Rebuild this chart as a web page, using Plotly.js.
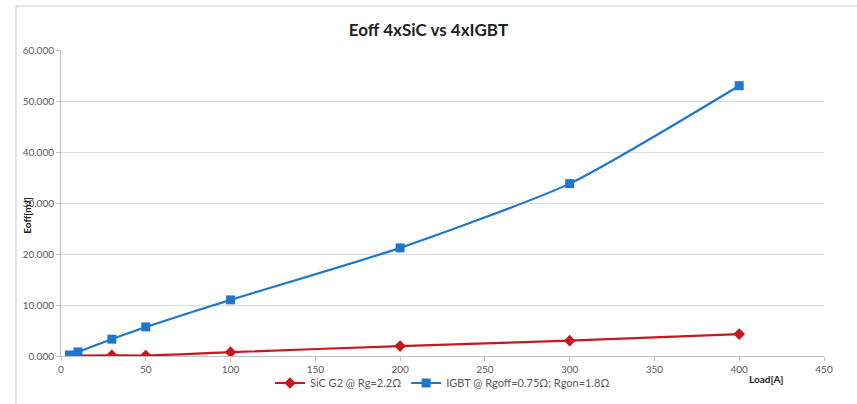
<!DOCTYPE html>
<html>
<head>
<meta charset="utf-8">
<script src="https://cdn.plot.ly/plotly-3.0.1.min.js"></script>
<style>html,body{margin:0;padding:0;background:#fff;}#chart{width:857px;height:404px;}</style>
</head>
<body>
<div id="chart"></div>
<script>
const sicLoad = [10, 30, 50, 100, 200, 300, 400];
const sicEoff = [0.1, 0.15, 0.1, 0.75, 1.95, 3.0, 4.3];
const igbtLoad = [5, 10, 30, 50, 100, 200, 300, 400];
const igbtEoff = [0.2, 0.8, 3.3, 5.7, 11.0, 21.2, 33.8, 53.0];
const sicName = 'SiC G2 @ Rg=2.2Ω';
const igbtName = 'IGBT @ Rgoff=0.75Ω; Rgon=1.8Ω';
const xTicks = [0, 50, 100, 150, 200, 250, 300, 350, 400, 450];
const yTicks = [0, 10, 20, 30, 40, 50, 60];

const font = 'Lato, "Liberation Sans", sans-serif';
const traces = [
  {x: sicLoad, y: sicEoff, name: sicName, type: 'scatter', mode: 'lines+markers',
   line: {color: '#C8171E', width: 2.2, shape: 'spline', smoothing: 0.6},
   marker: {symbol: 'diamond', size: 9, color: '#C8171E'}},
  {x: igbtLoad, y: igbtEoff, name: igbtName, type: 'scatter', mode: 'lines+markers',
   line: {color: '#1F77C9', width: 2.2, shape: 'spline', smoothing: 0.6},
   marker: {symbol: 'square', size: 9, color: '#1F77C9'}}
];
const layout = {
  width: 857, height: 404,
  margin: {l: 61, r: 33, t: 50, b: 48, autoexpand: false},
  paper_bgcolor: '#fff', plot_bgcolor: '#fff',
  font: {family: font, size: 10, color: '#595959'},
  title: {text: '<b>Eoff 4xSiC vs 4xIGBT</b>', font: {family: font, size: 17, color: '#222'}, x: 0.5, xanchor: 'center', y: 0.925, yanchor: 'middle'},
  xaxis: {range: [0, 450], tickvals: xTicks, showgrid: false, zeroline: false,
          showline: true, linecolor: '#bfbfbf', linewidth: 1, ticks: 'outside', ticklen: 4, tickcolor: '#bfbfbf',
          tickfont: {size: 10, color: '#595959'}, fixedrange: true, automargin: false},
  yaxis: {range: [0, 60], tickvals: yTicks, tickformat: '.3f', showgrid: true, gridcolor: '#d9d9d9', gridwidth: 1,
          zeroline: false, showline: true, linecolor: '#bfbfbf', linewidth: 1, ticks: 'outside', ticklen: 4, tickcolor: '#bfbfbf',
          tickfont: {size: 10, color: '#595959'}, fixedrange: true, automargin: false},
  showlegend: true,
  legend: {orientation: 'h', x: 0.5, xanchor: 'center', yref: 'container', y: 0.052, yanchor: 'middle', font: {size: 11, color: '#595959'}, bgcolor: 'rgba(0,0,0,0)'},
  annotations: [
    {text: '<b>Load[A]</b>', xref: 'paper', yref: 'paper', x: 0.924, y: -0.074, xanchor: 'center', yanchor: 'middle', showarrow: false, font: {size: 10, color: '#222'}},
    {text: '<b>Eoff[mJ]</b>', xref: 'paper', yref: 'paper', x: -0.044, y: 0.46, xanchor: 'center', yanchor: 'middle', textangle: -90, showarrow: false, font: {size: 10, color: '#222'}}
  ],
  shapes: [
    {type: 'line', xref: 'paper', yref: 'paper', x0: -0.059, x1: -0.059, y0: 1.1438, y1: -0.16, line: {color: '#c8c8c8', width: 1}},
    {type: 'line', xref: 'paper', yref: 'paper', x0: -0.059, x1: 1.05, y0: 1.1438, y1: 1.1438, line: {color: '#c8c8c8', width: 1}}
  ]
};
Plotly.newPlot('chart', traces, layout, {staticPlot: true, displayModeBar: false});
</script>
</body>
</html>
